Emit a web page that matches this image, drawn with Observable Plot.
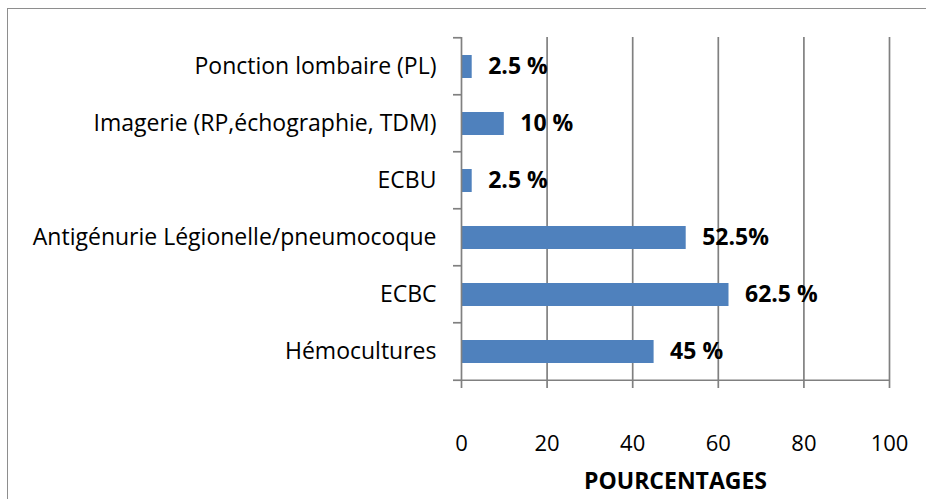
<!DOCTYPE html>
<html>
<head>
<meta charset="utf-8">
<script src="https://cdn.jsdelivr.net/npm/d3@7"></script>
<script src="https://cdn.jsdelivr.net/npm/@observablehq/plot@0.6"></script>
<style>
  html, body { margin: 0; padding: 0; background: #fff; }
  #wrap { position: relative; width: 926px; height: 499px; overflow: hidden; }
  #border { position: absolute; left: 7px; top: 8px; width: 940px; height: 520px; border: 1.5px solid #8e8e8e; box-sizing: border-box; }
  #chart { position: absolute; left: 0; top: 0; }
</style>
</head>
<body>
<div id="wrap"><div id="border"></div><div id="chart"></div></div>
<script>
const categories = [
  "Ponction lombaire (PL)",
  "Imagerie (RP,échographie, TDM)",
  "ECBU",
  "Antigénurie Légionelle/pneumocoque",
  "ECBC",
  "Hémocultures"
];
const values = [2.5, 10, 2.5, 52.5, 62.5, 45];
const valueLabels = ["2.5 %", "10 %", "2.5 %", "52.5%", "62.5 %", "45 %"];
const xTicks = [0, 20, 40, 60, 80, 100];
const axisTitle = "POURCENTAGES";

const data = categories.map((c, i) => ({category: c, value: values[i], label: valueLabels[i]}));
const grey = "#808080";
const padInner = 0.6;

const chart = Plot.plot({
  width: 926,
  height: 499,
  marginLeft: 461,
  marginRight: 37,
  marginTop: 37,
  marginBottom: 118,
  style: {fontFamily: "'Open Sans', sans-serif", fontSize: "23px", color: "#000", background: "transparent", overflow: "visible"},
  x: {domain: [0, 100], ticks: xTicks, label: null},
  y: {domain: categories, paddingInner: padInner, paddingOuter: padInner / 2, label: null},
  marks: [
    Plot.gridX(xTicks.slice(1), {stroke: grey, strokeOpacity: 1, strokeWidth: 1.7}),
    Plot.barX(data, {x: "value", y: "category", fill: "#4F81BD"}),
    Plot.text(data, {x: "value", y: "category", text: "label", textAnchor: "start", dx: 16, fontWeight: "bold", fontSize: 23, fill: "#000"}),
    Plot.ruleX([0], {stroke: grey, strokeWidth: 1.7}),
    Plot.axisY({tickSize: 0, tickPadding: 25, label: null, fontSize: 23}),
    Plot.axisX({ticks: xTicks, tickSize: 7, tickPadding: 47, stroke: grey, strokeWidth: 1.7, strokeOpacity: 1, label: null, fontSize: 22}),
    Plot.text([axisTitle], {frameAnchor: "bottom", dy: 107, fontWeight: "bold", fontSize: 23, fill: "#000"})
  ]
});

// Category-boundary ticks on the y axis and the x-axis line, from the plot's scales
const ys = chart.scale("y");
const xs = chart.scale("x");
const bw = ys.bandwidth;
const step = bw / (1 - padInner);
const x0 = xs.apply(0);
const x1 = xs.apply(100);
const bounds = categories.map(c => ys.apply(c) + bw / 2 - step / 2);
bounds.push(ys.apply(categories[categories.length - 1]) + bw / 2 + step / 2);
const g = d3.select(chart).append("g").attr("stroke", grey).attr("stroke-width", 1.7);
bounds.forEach(b => g.append("line").attr("x1", x0 - 8).attr("x2", x0).attr("y1", b).attr("y2", b));
const yb = bounds[bounds.length - 1];
g.append("line").attr("x1", x0).attr("x2", x1).attr("y1", yb).attr("y2", yb);

document.getElementById("chart").appendChild(chart);
</script>
</body>
</html>
